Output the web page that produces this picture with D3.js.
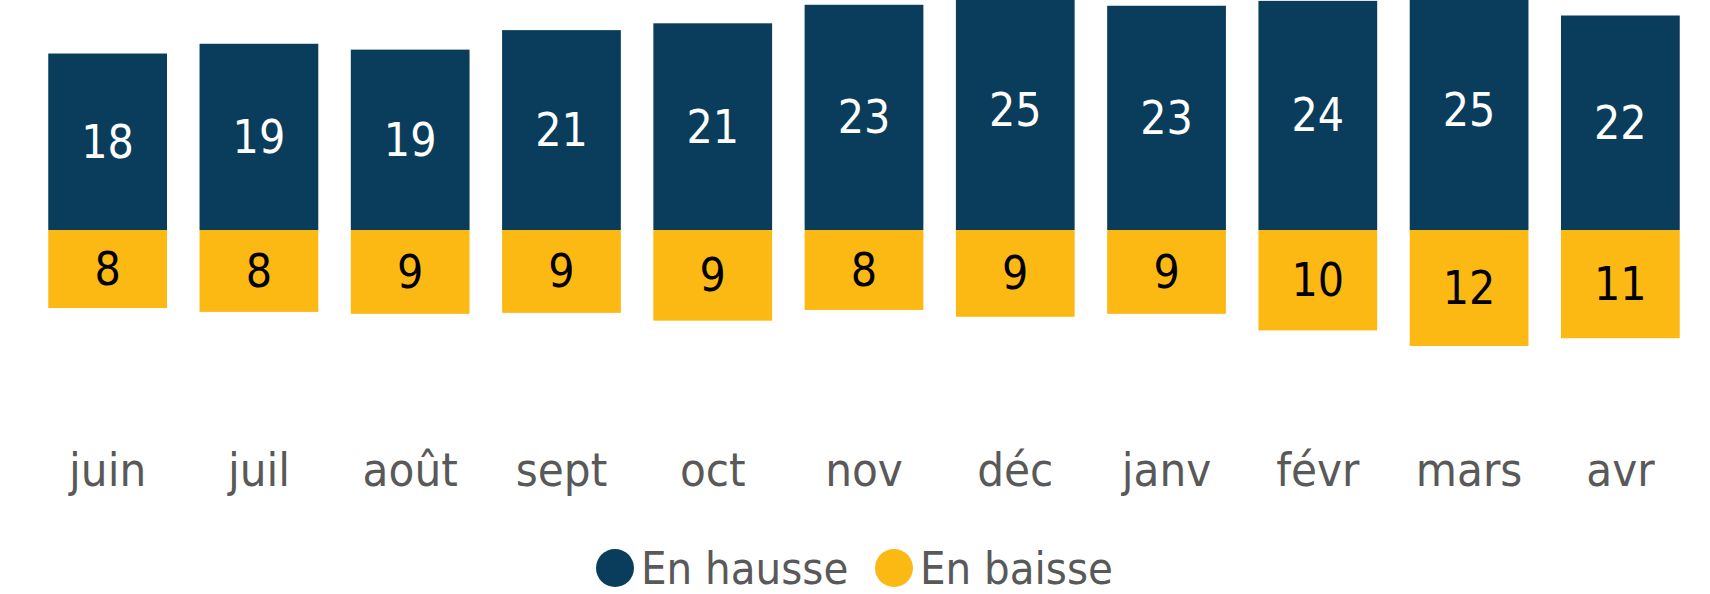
<!DOCTYPE html>
<html>
<head>
<meta charset="utf-8">
<script src="https://cdn.jsdelivr.net/npm/d3@7"></script>
<style>
  body { margin: 0; background: #fff; }
  svg { display: block; font-family: "DejaVu Sans Condensed", "Liberation Sans Narrow", "Open Sans", sans-serif; }
</style>
</head>
<body>
<svg id="chart" width="1710" height="594"></svg>
<script>
// ──────────────────────
// Data
// ──────────────────────
const months = ["juin", "juil", "août", "sept", "oct", "nov", "déc", "janv", "févr", "mars", "avr"];
const hausse = [18.1, 19.1, 18.5, 20.5, 21.2, 23.1, 24.6, 23.0, 23.5, 24.6, 22.0];
const baisse = [8.0, 8.4, 8.6, 8.5, 9.3, 8.2, 8.9, 8.6, 10.3, 11.9, 11.1];
const seriesNames = ["En hausse", "En baisse"];

const svg = d3.select("#chart");

const colors = { hausse: "#0a3d5c", baisse: "#fcb914" };

// ──────────────────────
// Scales
// ──────────────────────
const x = d3.scaleBand()
  .domain(months)
  .range([32, 1696])
  .paddingInner(0.215)
  .paddingOuter(0.1075);

const y = d3.scaleLinear()
  .domain([-10, 20])
  .range([327.5, 35]);

// ──────────────────────
// Bars
// ──────────────────────
const up = months.map((m, i) => ({ m, v: hausse[i] }));
const down = months.map((m, i) => ({ m, v: baisse[i] }));

svg.append("g").selectAll("rect")
  .data(up)
  .join("rect")
  .attr("x", d => x(d.m))
  .attr("width", x.bandwidth())
  .attr("y", d => y(d.v))
  .attr("height", d => y(0) - y(d.v))
  .attr("fill", colors.hausse);

svg.append("g").selectAll("rect")
  .data(down)
  .join("rect")
  .attr("x", d => x(d.m))
  .attr("width", x.bandwidth())
  .attr("y", y(0))
  .attr("height", d => y(-d.v) - y(0))
  .attr("fill", colors.baisse);

// value labels, centred in each bar
svg.append("g").selectAll("text")
  .data(up)
  .join("text")
  .attr("x", d => x(d.m) + x.bandwidth() / 2)
  .attr("y", d => (y(d.v) + y(0)) / 2)
  .attr("text-anchor", "middle")
  .attr("dominant-baseline", "central")
  .attr("font-size", 46)
  .attr("fill", "#fff")
  .text(d => Math.round(d.v));

svg.append("g").selectAll("text")
  .data(down)
  .join("text")
  .attr("x", d => x(d.m) + x.bandwidth() / 2)
  .attr("y", d => (y(-d.v) + y(0)) / 2)
  .attr("text-anchor", "middle")
  .attr("dominant-baseline", "central")
  .attr("font-size", 46)
  .attr("fill", "#000")
  .text(d => Math.round(d.v));

// ──────────────────────
// Month axis (no line, no ticks)
// ──────────────────────
const xAxis = svg.append("g")
  .attr("transform", "translate(0, 453)")
  .call(d3.axisBottom(x).tickSize(0).tickPadding(0))
  .attr("font-family", null)
  .attr("font-size", null);
xAxis.select(".domain").remove();
xAxis.selectAll("text")
  .attr("font-size", 47)
  .attr("fill", "#595959");

// ──────────────────────
// Legend
// ──────────────────────
const legend = svg.append("g").attr("transform", "translate(0, 568)");
const legendX = [615, 894];
seriesNames.forEach((name, i) => {
  legend.append("circle")
    .attr("cx", legendX[i])
    .attr("cy", 0)
    .attr("r", 19)
    .attr("fill", i === 0 ? colors.hausse : colors.baisse);
  legend.append("text")
    .attr("x", legendX[i] + 26)
    .attr("y", 0)
    .attr("dy", "0.36em")
    .attr("font-size", 45)
    .attr("fill", "#595959")
    .text(name);
});
</script>
</body>
</html>
